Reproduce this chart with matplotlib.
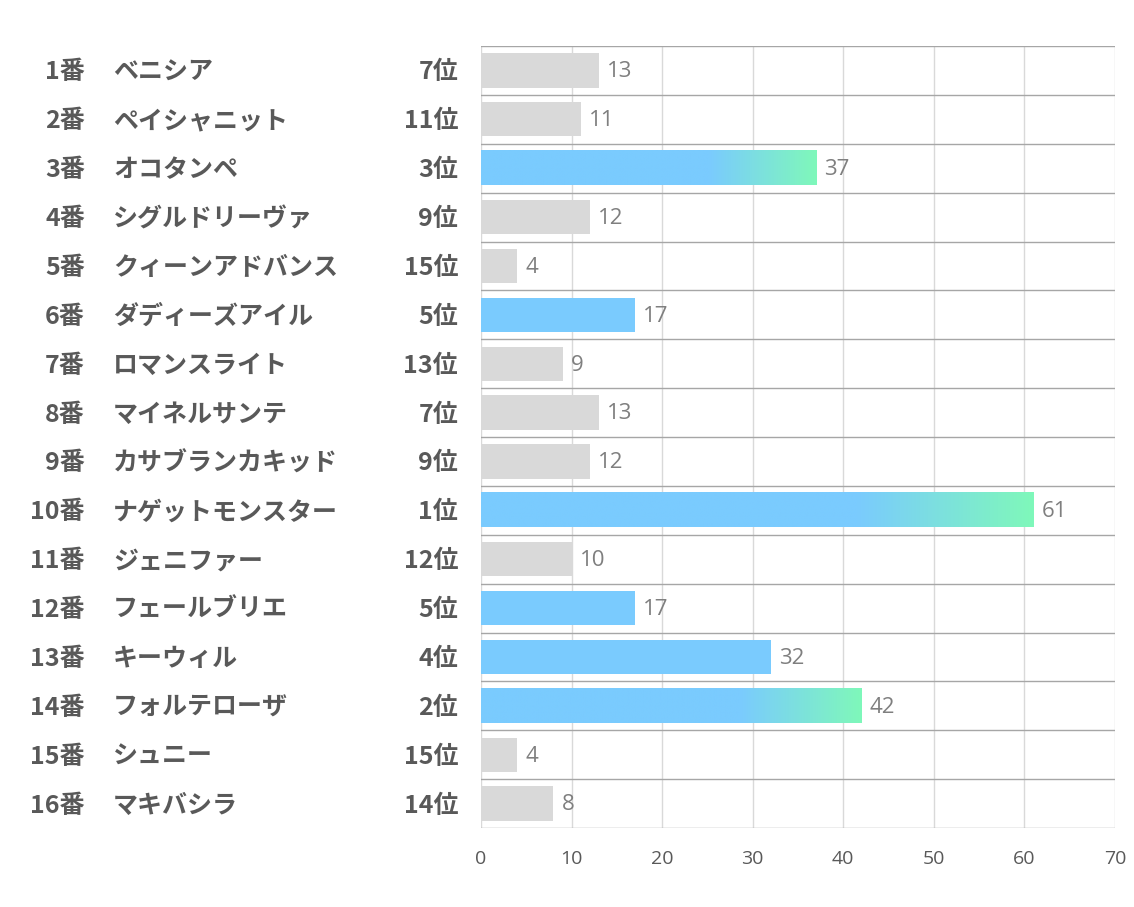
import matplotlib
matplotlib.use("Agg")
import matplotlib.pyplot as plt
import numpy as np
from matplotlib.colors import LinearSegmentedColormap
from matplotlib.transforms import offset_copy

plt.rcParams['font.family'] = ['Noto Sans CJK JP', 'DejaVu Sans']

numbers = ["1番", "2番", "3番", "4番", "5番", "6番", "7番", "8番",
           "9番", "10番", "11番", "12番", "13番", "14番", "15番", "16番"]
names = ["ベニシア", "ペイシャニット", "オコタンペ", "シグルドリーヴァ", "クィーンアドバンス",
         "ダディーズアイル", "ロマンスライト", "マイネルサンテ", "カサブランカキッド",
         "ナゲットモンスター", "ジェニファー", "フェールブリエ", "キーウィル",
         "フォルテローザ", "シュニー", "マキバシラ"]
ranks = [7, 11, 3, 9, 15, 5, 13, 7, 9, 1, 12, 5, 4, 2, 15, 14]
values = [13, 11, 37, 12, 4, 17, 9, 13, 12, 61, 10, 17, 32, 42, 4, 8]
xticks = [0, 10, 20, 30, 40, 50, 60, 70]

W, H = 1134, 907
fig = plt.figure(figsize=(W / 100, H / 100), dpi=100)
L, R, T, B = 481, 1115, 46, 828
ax = fig.add_axes([L / W, (H - B) / H, (R - L) / W, (B - T) / H])

gray = '#D9D9D9'
blue = '#7ACBFE'
green = '#7FF8BA'
cmap = LinearSegmentedColormap.from_list('bg', [blue, green])

n = len(values)
bh = 0.7
for i, (v, r) in enumerate(zip(values, ranks)):
    if r <= 3:
        xs = np.linspace(0, v, 512)
        start = v * 0.68
        grad = np.clip((xs - start) / (v - start), 0, 1).reshape(1, -1)
        ax.imshow(grad, cmap=cmap, vmin=0, vmax=1, aspect='auto',
                  extent=[0, v, i + bh / 2, i - bh / 2], zorder=3,
                  interpolation='bilinear')
    else:
        col = blue if r <= 5 else gray
        ax.barh(i, v, height=bh, color=col, zorder=2)
    ax.annotate(str(v), (v, i), xytext=(6, -1), textcoords='offset points',
                ha='left', va='center', fontsize=16, color='#7F7F7F',
                family=['Open Sans', 'DejaVu Sans'])

ax.set_xlim(0, 70)
ax.set_ylim(n - 0.5, -0.5)
ax.set_xticks(xticks)
ax.set_xticklabels([str(t) for t in xticks], fontsize=14, color='#595959',
                   family=['Open Sans', 'DejaVu Sans'])
ax.set_yticks([])
ax.tick_params(axis='x', length=0, pad=16)

for t in xticks:
    ax.axvline(t, color='#D9D9D9', lw=1, zorder=1)
for b in np.arange(-0.5, n, 1.0):
    ax.axhline(b, color='#A6A6A6', lw=1, zorder=1)
for s in ax.spines.values():
    s.set_visible(False)

trans = offset_copy(ax.get_yaxis_transform(), fig=fig, x=0, y=-2, units='dots')
x_num = (85 - L) / (R - L)
x_name = (113 - L) / (R - L)
x_rank = (458 - L) / (R - L)
tc = '#595959'
fs = 18
for i in range(n):
    ax.text(x_num, i, numbers[i], transform=trans, ha='right', va='center',
            fontsize=fs, fontweight='bold', color=tc, clip_on=False)
    ax.text(x_name, i, names[i], transform=trans, ha='left', va='center',
            fontsize=fs, fontweight='bold', color=tc, clip_on=False)
    ax.text(x_rank, i, f"{ranks[i]}位", transform=trans, ha='right', va='center',
            fontsize=fs, fontweight='bold', color=tc, clip_on=False)

fig.savefig('out.png', dpi=100, facecolor='white')
